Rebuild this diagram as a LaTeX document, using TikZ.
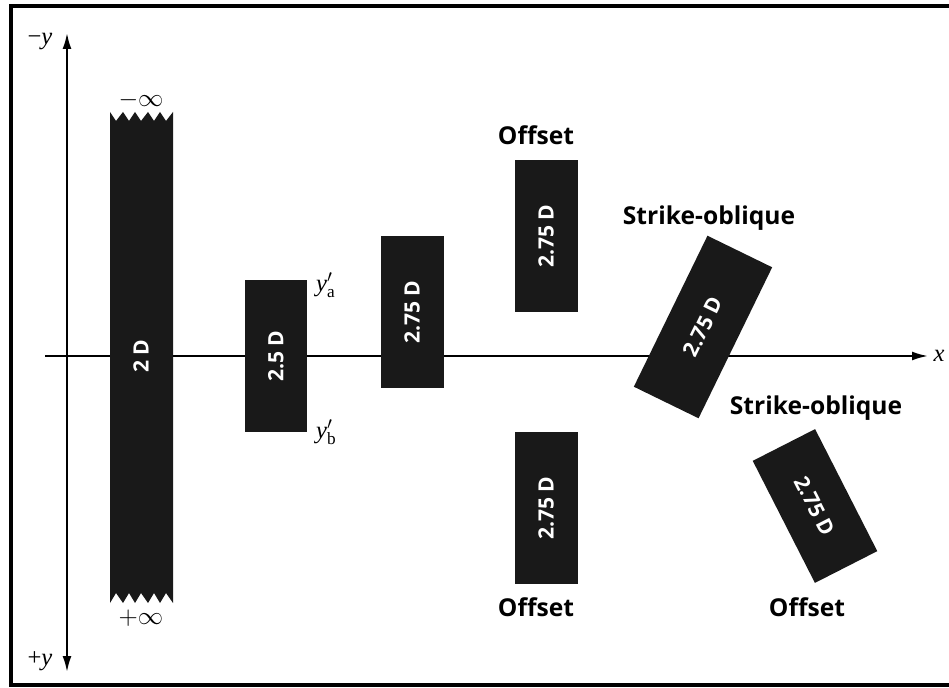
\documentclass[tikz,border=0pt]{standalone}
\usepackage{fontspec}
\setmainfont{Liberation Serif}
\setsansfont{Open Sans}
\usetikzlibrary{arrows.meta}

\begin{document}
\begin{tikzpicture}[x=0.02cm, y=-0.02cm]
        \tikzstyle{bartext}=[text=white, font=\sffamily\bfseries\fontsize{12}{14}\selectfont, inner sep=0pt]
        \tikzstyle{bar}=[bartext, fill=black!90, minimum width=3.04cm, minimum height=1.26cm]
        \tikzstyle{tag}=[font=\sffamily\bfseries\fontsize{14}{16}\selectfont]
        \tikzstyle{lbl}=[font=\fontsize{14}{16}\selectfont]
        \tikzstyle{axis}=[line width=1.1pt]
        \useasboundingbox (0,0) rectangle (949,688);
        \clip (0,0) rectangle (949,688);
        \draw[line width=1.8pt] (970,6) -- (11,6) -- (11,685) -- (970,685);
        % axes
        \coordinate (ytop) at (67,33);
        \coordinate (ybot) at (67,672);
        \coordinate (xleft) at (45,356);
        \coordinate (xright) at (928,356);
        \draw[axis, {Latex[length=9pt,width=5pt]}-{Latex[length=9pt,width=5pt]}] (ytop) -- (ybot);
        \draw[axis, -{Latex[length=9pt,width=5pt]}] (xleft) -- (xright);
        \node[lbl] (xlab) at (939,356) {\textit{x}};
        \node[lbl] (ymin) at (40,42) {−\textit{y}};
        \node[lbl] (ypls) at (40,661) {+\textit{y}};
        % infinite 2D bar
        \fill[black!90] (110,112) -- (116,121) -- (123,112) -- (129,121) -- (135,112) -- (141,121) -- (148,112) -- (154,121) -- (160,112) -- (166,121) -- (173,112)
                -- (173,603) -- (166,593) -- (160,603) -- (154,593) -- (148,603) -- (141,593) -- (135,603) -- (129,593) -- (123,603) -- (116,593) -- (110,603) -- cycle;
        \node[bartext, rotate=90] (twoD) at (141,356) {2 D};
        \node[lbl] (minf) at (141,100) {$-\infty$};
        \node[lbl] (pinf) at (141,618) {$+\infty$};
        % finite bars
        \node[bar, rotate=90] (half) at (276,356) {2.5 D};
        \node[lbl, anchor=west] (ya) at (310,285) {\textit{y}$'_{\mathrm{a}}$};
        \node[lbl, anchor=west] (yb) at (310,432) {\textit{y}$'_{\mathrm{b}}$};
        \node[bar, rotate=90] (mid) at (412,312) {2.75 D};
        \node[bar, rotate=90] (offA) at (546,236) {2.75 D};
        \node[tag] (offAlab) at (536,135) {Offset};
        \node[bar, rotate=90] (offB) at (546,508) {2.75 D};
        \node[tag] (offBlab) at (536,607) {Offset};
        \node[bar, rotate=64, minimum width=3.36cm, minimum height=1.44cm] (obA) at (703,327) {2.75 D};
        \node[tag] (obAlab) at (709,218) {Strike-oblique};
        \node[bar, rotate=-63, minimum width=2.74cm, minimum height=1.4cm] (obB) at (815,506) {2.75 D};
        \node[tag] (obBlab) at (816,408) {Strike-oblique};
        \node[tag] (obBoff) at (807,607) {Offset};
    \end{tikzpicture}
\end{document}
